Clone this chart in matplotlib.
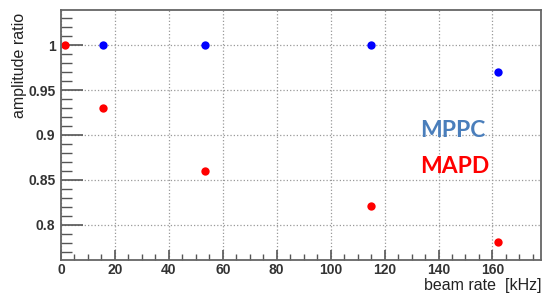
import matplotlib.pyplot as plt
from matplotlib.ticker import MultipleLocator

plt.rcParams['font.family'] = ['Liberation Sans', 'DejaVu Sans']

# data
mppc_rate = [15.6, 53.3, 114.8, 161.9]
mppc_ratio = [1.0, 1.0, 1.0, 0.97]
mapd_rate = [1.5, 15.6, 53.3, 114.8, 161.9]
mapd_ratio = [1.0, 0.93, 0.86, 0.821, 0.781]

fig = plt.figure(figsize=(5.5, 2.98), dpi=100)
ax = fig.add_axes([61 / 550, 38 / 298, 480 / 550, 250 / 298])

ax.plot(mppc_rate, mppc_ratio, 'o', color='#0000ff', markersize=6, markeredgewidth=0)
ax.plot(mapd_rate, mapd_ratio, 'o', color='#ff0000', markersize=6, markeredgewidth=0)

ax.set_xlim(0, 178)
ax.set_ylim(0.761, 1.039)
ax.xaxis.set_major_locator(MultipleLocator(20))
ax.xaxis.set_minor_locator(MultipleLocator(5))
ax.yaxis.set_minor_locator(MultipleLocator(0.01))
ax.set_yticks([0.8, 0.85, 0.9, 0.95, 1.0])
ax.set_yticklabels(['0.8', '0.85', '0.9', '0.95', '1'])

ax.grid(True, which='major', linestyle=':', color='#999999', linewidth=0.9)
ax.tick_params(which='both', direction='in', top=False, right=False,
               labelsize=10, color='#555555', labelcolor='#333333')
ax.tick_params(axis='y', which='major', length=16, width=1.2, pad=4)
ax.tick_params(axis='y', which='minor', length=8, width=1)
ax.tick_params(axis='x', which='major', length=7, width=1.2, pad=2)
ax.tick_params(axis='x', which='minor', length=4, width=1)
for lbl in ax.get_xticklabels() + ax.get_yticklabels():
    lbl.set_fontweight('bold')
for s in ax.spines.values():
    s.set_color('#666666')
    s.set_linewidth(1.3)

ax.set_ylabel('amplitude ratio', fontsize=11.5, color='#222222', loc='top')
ax.yaxis.set_label_coords(-0.07, 0.99)
ax.set_xlabel('beam rate  [kHz]', fontsize=11.5, color='#222222', loc='right')
ax.xaxis.set_label_coords(1.0, -0.072)

ax.text(0.748, 0.492, 'MPPC', transform=ax.transAxes, fontsize=16.5, fontweight='bold',
        color='#4a7ebb', family='Lato', va='baseline')
ax.text(0.748, 0.348, 'MAPD', transform=ax.transAxes, fontsize=16.5, fontweight='bold',
        color='#ff0000', family='Lato', va='baseline')

fig.savefig('out.png', dpi=100)
